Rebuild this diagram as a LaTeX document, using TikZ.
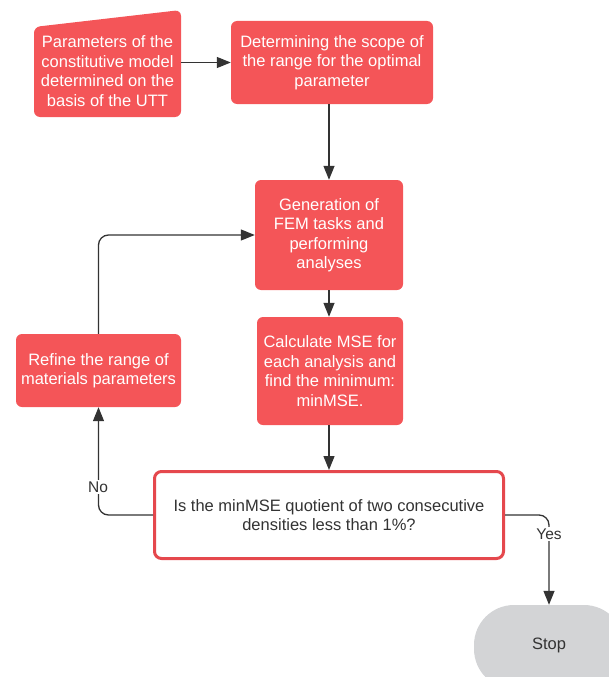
\documentclass[tikz,border=0pt]{standalone}
\usepackage{fontspec}
\setmainfont{Liberation Sans}
\usetikzlibrary{arrows.meta}
\definecolor{redc}{HTML}{F45558}
\definecolor{redb}{HTML}{E5484D}
\definecolor{linec}{HTML}{333333}
\definecolor{stopc}{HTML}{D3D4D6}
\tikzset{
  base/.style={align=center, font=\fontsize{16.5}{19.5}\selectfont, inner sep=0pt},
  redbox/.style={base, fill=redc, text=white, rounded corners=6pt},
  decbox/.style={base, fill=white, draw=redb, line width=3pt, text=linec, rounded corners=7pt},
  stopbox/.style={base, fill=stopc, text=linec, rounded corners=40pt},
  arr/.style={draw=linec, line width=1.3pt, -{Triangle[length=14pt,width=11pt]}},
  lbl/.style={base, font=\fontsize{15.5}{18}\selectfont, fill=white, text=linec, inner sep=2pt}
}
\begin{document}
\begin{tikzpicture}[x=1pt,y=-1pt]
\useasboundingbox (0,0) rectangle (609,677);
% manual input shape
\fill[redc, rounded corners=6pt] (34,27) -- (181,10) -- (181,117) -- (34,117) -- cycle;
\node[base, text=white, minimum width=147pt] (b1) at (107.5,71) {Parameters of the\\constitutive model\\determined on the\\basis of the UTT};
\node[redbox, minimum width=202pt, minimum height=83pt] (b2) at (332,62.5) {Determining the scope of\\the range for the optimal\\parameter};
\node[redbox, minimum width=148pt, minimum height=110pt] (b3) at (329,235) {Generation of\\FEM tasks and\\performing\\analyses};
\node[redbox, minimum width=146pt, minimum height=108pt] (b4) at (330,371) {Calculate MSE for\\each analysis and\\find the minimum:\\minMSE.};
\node[redbox, minimum width=165pt, minimum height=73pt] (ref) at (98.5,370.5) {Refine the range of\\materials parameters};
\node[decbox, minimum width=349pt, minimum height=87pt] (dec) at (329,515) {Is the minMSE quotient of two consecutive\\densities less than 1\%?};
\begin{scope}
\clip (0,0) rectangle (609,677);
\node[stopbox, minimum width=150pt, minimum height=84pt] (stop) at (549,647) {\raisebox{6pt}{Stop}};
\end{scope}
% connectors
\draw[arr] (b1.east |- b2.west) -- (b2.west);
\draw[arr] (b3.north |- b2.south) -- (b3.north);
\draw[arr] (b3.south) -- (b3.south |- b4.north);
\draw[arr] (b3.south |- b4.south) -- (b3.south |- dec.north);
\draw[arr, rounded corners=10pt] (dec.west) -- (ref.south |- dec.west) -- (ref.south);
\draw[arr, rounded corners=10pt] (ref.north) -- (ref.north |- b3.west) -- (b3.west);
\draw[arr, rounded corners=10pt] (dec.east) -- (stop.north |- dec.east) -- (stop.north);
\node[lbl] (no) at (98,487) {No};
\node[lbl] (yes) at (549,534) {Yes};
\end{tikzpicture}
\end{document}
